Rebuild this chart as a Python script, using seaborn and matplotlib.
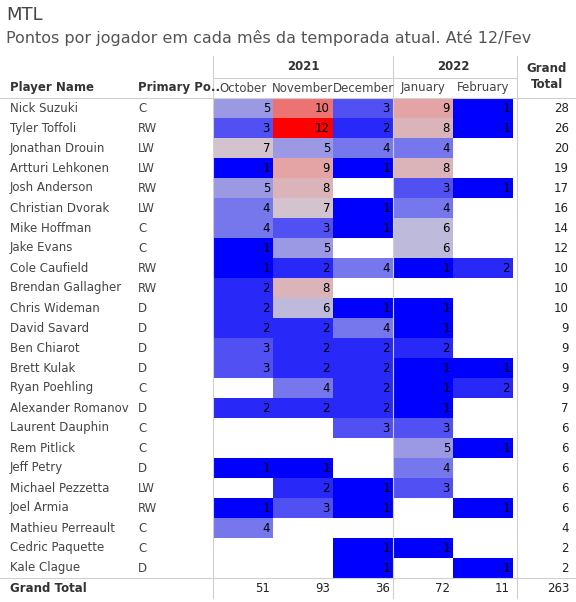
import numpy as np
import pandas as pd
import matplotlib
matplotlib.use("Agg")
import matplotlib.pyplot as plt
import seaborn as sns
from matplotlib.colors import LinearSegmentedColormap, TwoSlopeNorm

players = ["Nick Suzuki","Tyler Toffoli","Jonathan Drouin","Artturi Lehkonen","Josh Anderson",
           "Christian Dvorak","Mike Hoffman","Jake Evans","Cole Caufield","Brendan Gallagher",
           "Chris Wideman","David Savard","Ben Chiarot","Brett Kulak","Ryan Poehling",
           "Alexander Romanov","Laurent Dauphin","Rem Pitlick","Jeff Petry","Michael Pezzetta",
           "Joel Armia","Mathieu Perreault","Cedric Paquette","Kale Clague"]
positions = ["C","RW","LW","LW","RW","LW","C","C","RW","RW","D","D","D","D","C","D","C","C","D","LW","RW","C","C","D"]
months = ["October","November","December","January","February"]
n = np.nan
october  = [5,3,7,1,5,4,4,1,1,2,2,2,3,3,n,2,n,n,1,n,1,4,n,n]
november = [10,12,5,9,8,7,3,5,2,8,6,2,2,2,4,2,n,n,1,2,3,n,n,n]
december = [3,2,4,1,n,1,1,n,4,n,1,4,2,2,2,2,3,n,n,1,1,n,1,1]
january  = [9,8,4,8,3,4,6,6,1,n,1,1,2,1,1,1,3,5,4,3,n,n,1,n]
february = [1,1,n,n,1,n,n,n,2,n,n,n,n,1,2,n,n,1,n,n,1,n,n,1]

df = pd.DataFrame({"October":october,"November":november,"December":december,
                   "January":january,"February":february}, index=players)
row_tot = df.sum(axis=1).astype(int)
col_tot = df.sum(axis=0).astype(int)

W, H = 576, 602
fig = plt.figure(figsize=(W/100, H/100), dpi=100)
def fx(x): return x / W
def fy(y): return 1 - y / H

top, rh, n_rows = 98, 20, len(players)
ax = fig.add_axes([fx(213), fy(top + rh*n_rows), fx(300), (rh*n_rows)/H])
cmap = LinearSegmentedColormap.from_list("rb", ["#0000ff", "#6f6fef", "#cfcbd8", "#e6a0a0", "#ff0000"])
norm = TwoSlopeNorm(vmin=1, vcenter=6.5, vmax=12)
sns.heatmap(df, ax=ax, cmap=cmap, norm=norm, cbar=False, annot=False,
            xticklabels=False, yticklabels=False)
for i in range(n_rows):
    for j, m in enumerate(months):
        v = df.iloc[i, j]
        if not np.isnan(v):
            ax.text(j + 0.95, i + 0.5, f"{int(v)}", ha="right", va="center", fontsize=8.5, color="black")
ax.set_xlabel(""); ax.set_ylabel("")
for s in ax.spines.values():
    s.set_visible(False)

tc = "#333333"
fig.text(fx(6), fy(15), "MTL", fontsize=13, color="#444444", va="center")
fig.text(fx(6), fy(38), "Pontos por jogador em cada mês da temporada atual. Até 12/Fev",
         fontsize=11.5, color="#555555", va="center")
fig.text(fx(10), fy(88), "Player Name", fontsize=8.5, weight="bold", color=tc, va="center")
fig.text(fx(138), fy(88), "Primary Po..", fontsize=8.5, weight="bold", color=tc, va="center")
fig.text(fx(303), fy(67), "2021", fontsize=8.5, weight="bold", color=tc, ha="center", va="center")
fig.text(fx(453), fy(67), "2022", fontsize=8.5, weight="bold", color=tc, ha="center", va="center")
fig.text(fx(547), fy(77), "Grand\nTotal", fontsize=8.5, weight="bold", color=tc, ha="center", va="center", linespacing=1.3)
for j, m in enumerate(months):
    fig.text(fx(213 + 60*j + 30), fy(88), m, fontsize=8.5, color="#444444", ha="center", va="center")

for i, p in enumerate(players):
    y = top + rh*i + rh/2
    fig.text(fx(10), fy(y), p, fontsize=8.5, color="#444444", va="center")
    fig.text(fx(138), fy(y), positions[i], fontsize=8.5, color="#444444", va="center")
    fig.text(fx(569), fy(y), str(row_tot.iloc[i]), fontsize=8.5, color="#222222", ha="right", va="center")

gy = top + rh*n_rows + 10
fig.text(fx(10), fy(gy), "Grand Total", fontsize=8.5, weight="bold", color=tc, va="center")
for j, m in enumerate(months):
    fig.text(fx(213 + 60*j + 57), fy(gy), str(col_tot[m]), fontsize=8.5, color="#222222", ha="right", va="center")
fig.text(fx(569), fy(gy), str(int(col_tot.sum())), fontsize=8.5, color="#222222", ha="right", va="center")

lc = "#d0d0d0"
from matplotlib.lines import Line2D
for x in [213, 393, 517]:
    fig.add_artist(Line2D([fx(x), fx(x)], [fy(56), fy(598)], color=lc, lw=0.8))
fig.add_artist(Line2D([fx(213), fx(517)], [fy(78), fy(78)], color=lc, lw=0.8))
fig.add_artist(Line2D([0, 1], [fy(top), fy(top)], color=lc, lw=0.8))
fig.add_artist(Line2D([0, 1], [fy(578), fy(578)], color=lc, lw=0.8))

fig.savefig("out.png", dpi=100)
